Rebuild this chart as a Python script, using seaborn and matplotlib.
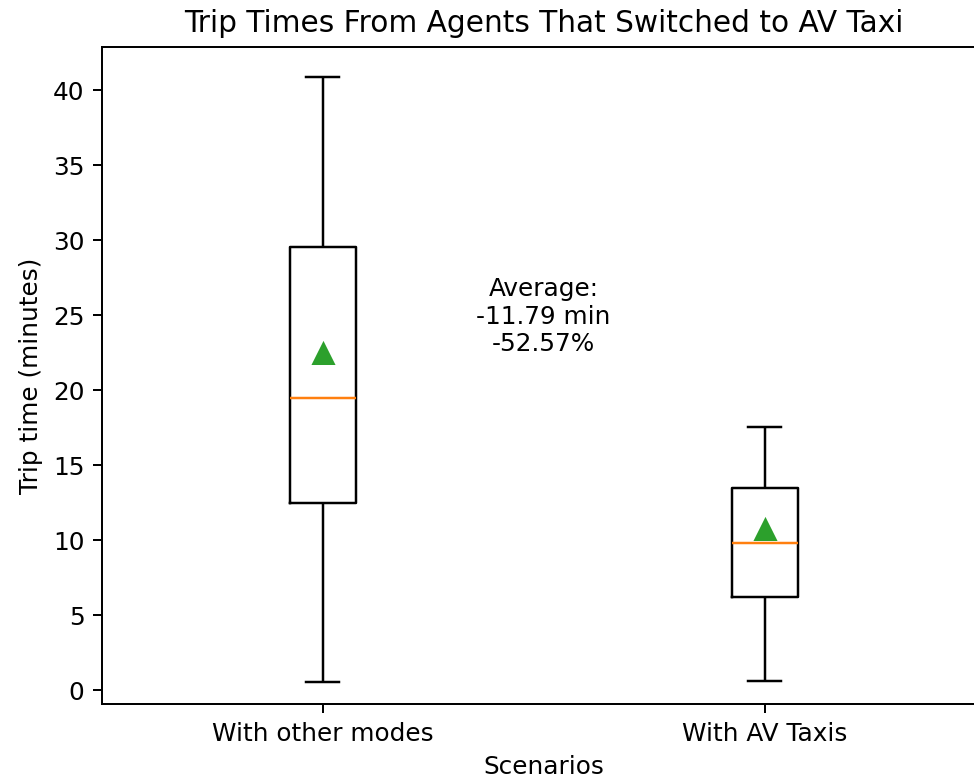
import matplotlib
matplotlib.use("Agg")
import matplotlib.pyplot as plt
import numpy as np
import pandas as pd
import seaborn as sns

# Five-number summaries of trip times (minutes) per scenario
scenarios = ["With other modes", "With AV Taxis"]
whisker_low = [0.55, 0.6]
q1 = [12.5, 6.22]
median = [19.5, 9.78]
q3 = [29.55, 13.5]
whisker_high = [40.9, 17.55]
means = [22.43, 10.64]

avg_label = "Average:\n-11.79 min\n-52.57%"

# Long-form table: each scenario contributes its five summary values,
# which reproduce the quartiles and whisker ends exactly
rows = []
for i, s in enumerate(scenarios):
    for v in (whisker_low[i], q1[i], median[i], q3[i], whisker_high[i]):
        rows.append({"Scenarios": s, "Trip time (minutes)": v})
df = pd.DataFrame(rows)
mean_df = pd.DataFrame({"Scenarios": scenarios, "Trip time (minutes)": means})

DPI = 178
fig = plt.figure(figsize=(974 / DPI, 782 / DPI), dpi=DPI)
ax = fig.add_axes([0.1044, 0.0994, 0.9076, 0.841])

sns.boxplot(
    data=df, x="Scenarios", y="Trip time (minutes)",
    width=0.15, fill=False, color="black", linewidth=1.0,
    medianprops={"color": "C1"},
    ax=ax,
)
sns.pointplot(
    data=mean_df, x="Scenarios", y="Trip time (minutes)",
    color="C2", markers="^", linestyle="none", markersize=6.5,
    errorbar=None, ax=ax,
)

ax.set_ylim(-0.95, 42.9)
ax.set_xlim(-0.5, 1.5)
ax.set_yticks(range(0, 41, 5))
ax.spines["right"].set_visible(False)
ax.text(0.5, 24.9, avg_label, ha="center", va="center", fontsize=10)
ax.set_title("Trip Times From Agents That Switched to AV Taxi", fontsize=12)
ax.set_xlabel("Scenarios")
ax.set_ylabel("Trip time (minutes)")

fig.savefig("out.png", dpi=DPI)
